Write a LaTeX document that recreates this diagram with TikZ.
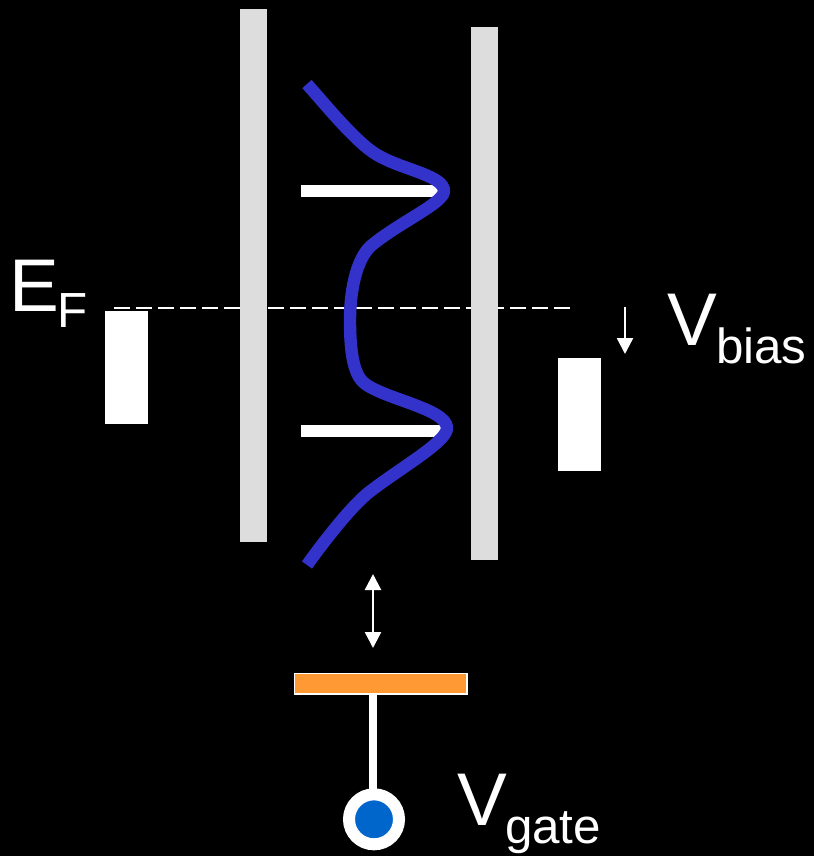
\documentclass[tikz,border=0pt]{standalone}
\usepackage{fontspec}
\setmainfont{Liberation Sans}
\usetikzlibrary{arrows.meta}
\definecolor{barrier}{HTML}{DDDDDD}
\definecolor{wave}{HTML}{3333CC}
\definecolor{gateor}{HTML}{FF9933}
\definecolor{gatedot}{HTML}{0066CC}
\newcommand{\sublabel}[4]{{\fontsize{56pt}{60pt}\selectfont #1}\kern#4\raisebox{#3}{\fontsize{37pt}{40pt}\selectfont #2}}
\tikzset{
  px/.style={x=0.75pt,y=-0.75pt},
  solidbox/.style={fill=white,draw=none},
  barrierbox/.style={fill=barrier,draw=none},
  thinarrow/.style={white,line width=1.8pt,-{Triangle[width=12pt,length=12pt]}},
  thinboth/.style={white,line width=1.8pt,{Triangle[width=12pt,length=12pt]}-{Triangle[width=12pt,length=12pt]}},
  lbl/.style={text=white,inner sep=0pt,anchor=base west}
}
\begin{document}
\begin{tikzpicture}[px]
\useasboundingbox (0,0) rectangle (814,856);
\fill[black] (0,0) rectangle (814,856);
% Fermi level
\coordinate (efl) at (114,307.7);
\coordinate (efr) at (570,307.7);
\draw[white,line width=1.3pt,dash pattern=on 12pt off 4.5pt] (efl) -- (efr);
% Barriers
\fill[barrierbox] (240,9) rectangle (267,541.5);
\fill[barrierbox] (471,27) rectangle (498,559.5);
% Leads
\fill[solidbox] (105,311) rectangle (147.5,424);
\fill[solidbox] (558,358) rectangle (600.5,471);
% Levels
\fill[solidbox] (301,185) rectangle (442,197);
\fill[solidbox] (301,425) rectangle (446,437);
% Density of states
\draw[wave,line width=9.3pt,line join=round] (307,84)
  .. controls (330,110) and (360,147) .. (381,157)
  .. controls (405,170) and (444,176) .. (444,191)
  .. controls (444,203) and (400,222) .. (372,245)
  .. controls (355,259) and (350,295) .. (350,320)
  .. controls (350,345) and (352,370) .. (362,381)
  .. controls (378,398) and (447,408) .. (447,428)
  .. controls (447,442) and (400,468) .. (368,493)
  .. controls (350,508) and (325,540) .. (307,565);
% Arrows
\coordinate (ga) at (373,574);
\coordinate (gb) at (373,648);
\draw[thinboth] (ga) -- (gb);
\coordinate (ba) at (625,307);
\coordinate (bb) at (625,354);
\draw[thinarrow] (ba) -- (bb);
% Gate
\node[draw=white,line width=1.1pt,fill=gateor,minimum width=129.5pt,minimum height=15.5pt,inner sep=0pt] (gate) at (380.7,683.7) {};
\node[circle,draw=white,fill=gatedot,line width=9pt,minimum size=37.5pt,inner sep=0pt] (dot) at (374,819.3) {};
\draw[white,line width=5.3pt] (gate.south -| 373,0) -- (373,790);
% Labels
\node[lbl] (ef) at (9,311.7) {\sublabel{E}{F}{-12pt}{-1.5pt}};
\node[lbl] (vb) at (667,345) {\sublabel{V}{bias}{-13.5pt}{-0.7pt}};
\node[lbl] (vg) at (457,825) {\sublabel{V}{gate}{-13.5pt}{-1.5pt}};
\end{tikzpicture}
\end{document}
